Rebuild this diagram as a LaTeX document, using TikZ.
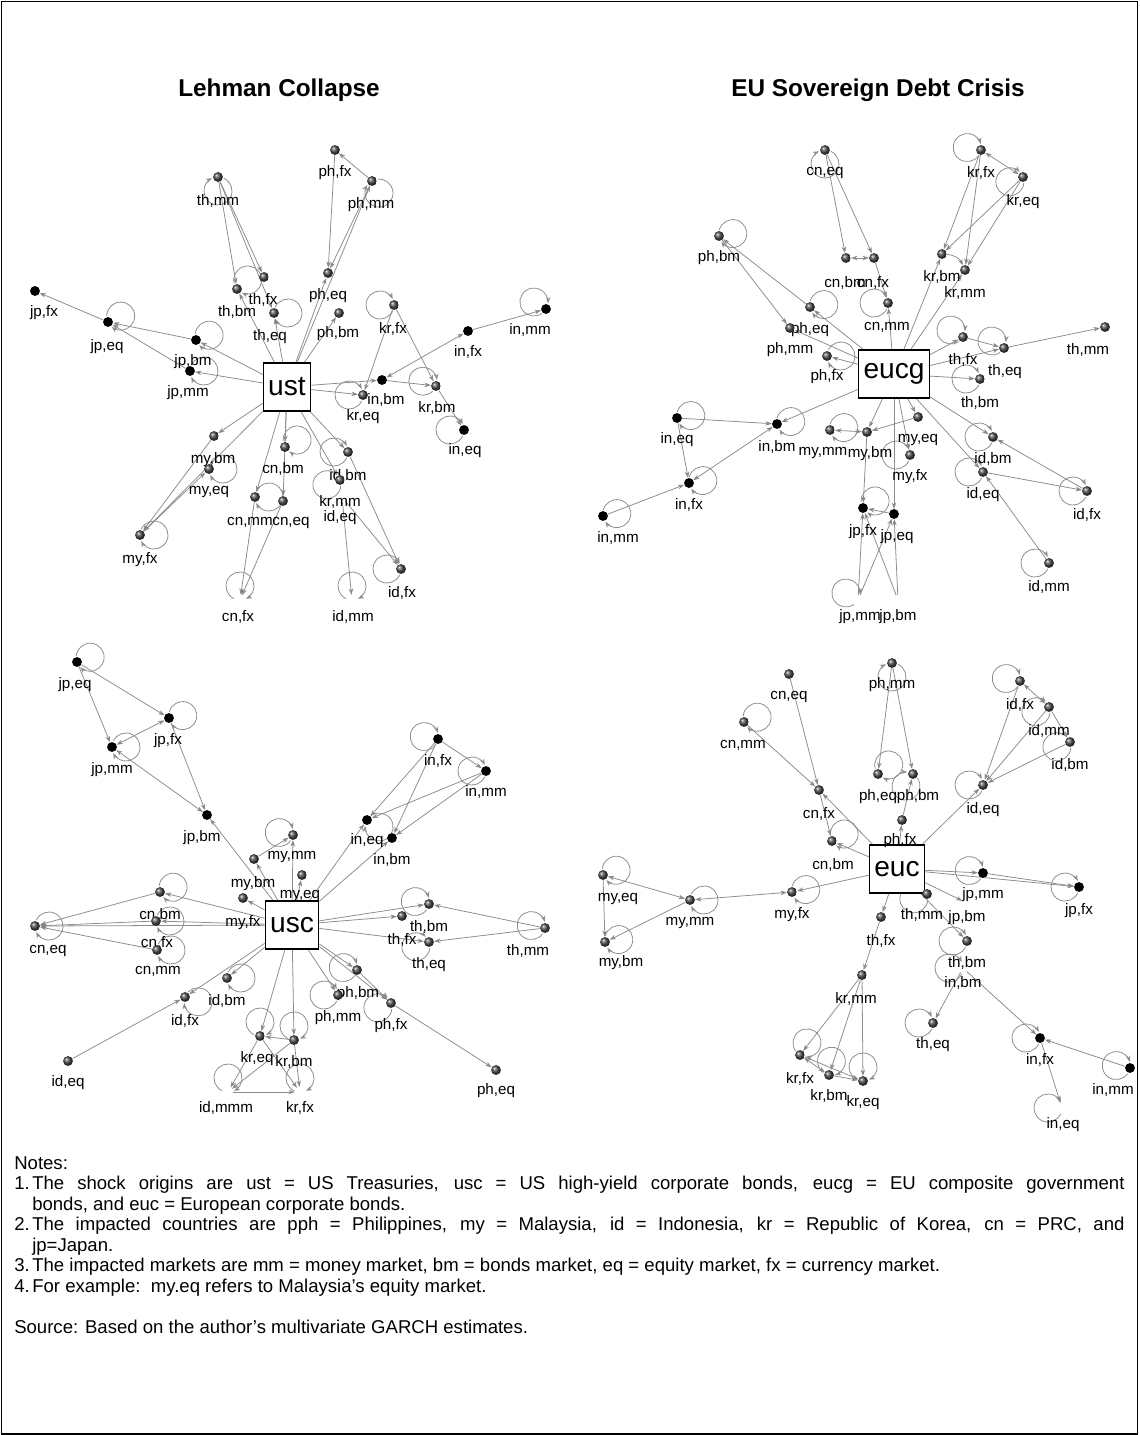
\documentclass[tikz,border=0pt]{standalone}
\usepackage{fontspec}
\setmainfont{Liberation Sans}
\usetikzlibrary{arrows.meta}
\pgfdeclarelayer{bg}
\pgfsetlayers{bg,main}

% market node: ball + label
\newcommand{\mk}[5][ball]{\node[#1] (#2) at (#3) {}; \node[lbl] (#2l) at (#4) {#5};}
% self loop: node, direction
\newcommand{\lpc}[3][14]{\draw[ed] (#2.center) ++({-(#3)}:#1) ++({-(#3)+205}:#1) arc[start angle={-(#3)+205},delta angle=310,radius=#1];}
\newcommand{\noteitem}[1]{\par\noindent\hangindent=12.8pt\hangafter=1\makebox[12.8pt][l]{#1}}

\begin{document}
\begin{tikzpicture}[x=0.025cm,y=-0.025cm,
  ball/.style={circle,inner sep=0pt,minimum size=7pt,ball color=black!70},
  blk/.style={circle,inner sep=0pt,minimum size=7pt,fill=black},
  hid/.style={circle,inner sep=0pt,minimum size=7pt},
  lbl/.style={inner sep=0pt,font=\fontsize{10.8}{11}\selectfont},
  src/.style={draw,line width=0.9pt,fill=white,inner xsep=3.5pt,minimum height=34pt,font=\fontsize{20}{20}\selectfont},
  ttl/.style={font=\fontsize{17.3}{17}\selectfont\bfseries},
  ed/.style={draw=black!45,line width=0.55pt,-{Stealth[length=4.5pt,width=3.2pt]}},
  ed2/.style={ed,{Stealth[length=4.5pt,width=3.2pt]}-{Stealth[length=4.5pt,width=3.2pt]}},
  notes/.style={anchor=north west,inner sep=0pt,text width=27.75cm,align=justify,font=\fontsize{13.2}{14.6}\selectfont}]
\useasboundingbox (0,0) rectangle (1139,1435);
\draw[line width=1.4pt] (1.5,1.5) rectangle (1137.5,1433.5);

\node[ttl] (t1) at (279,90) {Lehman Collapse};
\node[ttl] (t2) at (878,90) {EU Sovereign Debt Crisis};

% ---- Lehman collapse
\node[src] (ust) at (287,387) {ust};
\mk{L-thmm}{218,177}{218,201}{th,mm}
\mk[blk]{L-jpfx}{35,291}{44,313}{jp,fx}
\mk[blk]{L-jpeq}{108,322}{107,347}{jp,eq}
\mk[blk]{L-jpbm}{196,340}{193,362}{jp,bm}
\mk[blk]{L-jpmm}{190,371}{188,393}{jp,mm}
\mk{L-thbm}{237,289}{237,312}{th,bm}
\mk{L-thfx}{264,277}{263,300}{th,fx}
\mk{L-theq}{274,313}{270,337}{th,eq}
\mk{L-phfx}{335,150}{335,173}{ph,fx}
\mk{L-phmm}{372,181}{371,205}{ph,mm}
\mk{L-pheq}{328,273}{328,296}{ph,eq}
\mk{L-phbm}{339,313}{338,334}{ph,bm}
\mk{L-krfx}{394,305}{393,329}{kr,fx}
\mk[blk]{L-infx}{468,331}{468,352}{in,fx}
\mk[blk]{L-inmm}{546,309}{530,330}{in,mm}
\mk[blk]{L-inbm}{382,380}{386,400}{in,bm}
\mk{L-kreq}{363,395}{363,417}{kr,eq}
\mk{L-krbm}{436,386}{437,408}{kr,bm}
\mk[blk]{L-ineq}{464,430}{465,451}{in,eq}
\mk{L-cnbm}{285,447}{283,469}{cn,bm}
\mk{L-idbm}{348,452}{348,476}{id,bm}
\mk{L-krmm}{340,480}{340,502}{kr,mm}
\mk[hid]{L-ideq}{342,497}{340,518}{id,eq}
\mk{L-cneq}{283,501}{291,523}{cn,eq}
\mk{L-cnmm}{255,497}{250,522}{cn,mm}
\mk{L-idfx}{401,569}{402,593}{id,fx}
\mk[hid]{L-idmm}{352,600}{353,617}{id,mm}
\mk{L-mybm}{214,436}{213,460}{my,bm}
\mk{L-myeq}{209,469}{209,492}{my,eq}
\mk{L-myfx}{140,535}{140,560}{my,fx}
\mk[hid]{L-cnfx}{240,600}{238,617}{cn,fx}

% ---- EU sovereign debt crisis
\node[src] (eucg) at (894,374) {eucg};
\mk{E-cneq}{825,150}{825,173}{cn,eq}
\mk{E-phbm}{719,236}{719,258}{ph,bm}
\mk{E-cnbm}{846,258}{845,283}{cn,bm}
\mk{E-pheq}{810,307}{810,330}{ph,eq}
\mk{E-phmm}{790,328}{790,350}{ph,mm}
\mk{E-phfx}{827,356}{827,377}{ph,fx}
\mk{E-krfx}{981,150}{981,173}{kr,fx}
\mk{E-kreq}{1023,177}{1023,202}{kr,eq}
\mk{E-cnfx}{874,258}{873,283}{cn,fx}
\mk{E-krbm}{942,254}{942,277}{kr,bm}
\mk{E-krmm}{965,270}{965,293}{kr,mm}
\mk{E-cnmm}{888,303}{887,327}{cn,mm}
\mk{E-thfx}{963,337}{963,360}{th,fx}
\mk{E-theq}{1004,348}{1005,372}{th,eq}
\mk{E-thmm}{1105,327}{1088,350}{th,mm}
\mk{E-thbm}{980,379}{980,403}{th,bm}
\mk{E-myeq}{918,417}{918,440}{my,eq}
\mk{E-mybm}{867,432}{870,454}{my,bm}
\mk{E-myfx}{910,455}{910,477}{my,fx}
\mk{E-mymm}{830,430}{823,453}{my,mm}
\mk{E-idbm}{993,437}{993,459}{id,bm}
\mk{E-ideq}{983,472}{983,495}{id,eq}
\mk{E-idfx}{1087,491}{1087,515}{id,fx}
\mk{E-idmm}{1049,563}{1049,587}{id,mm}
\mk[blk]{E-jpfx}{863,508}{863,532}{jp,fx}
\mk[blk]{E-jpeq}{894,514}{897,537}{jp,eq}
\mk[hid]{E-jpmm}{858,600}{860,617}{jp,mm}
\mk[hid]{E-jpbm}{898,600}{898,617}{jp,bm}
\mk[blk]{E-ineq}{677,418}{677,440}{in,eq}
\mk[blk]{E-inbm}{777,424}{777,447}{in,bm}
\mk[blk]{E-infx}{689,483}{689,505}{in,fx}
\mk[blk]{E-inmm}{603,516}{618,538}{in,mm}

\begin{scope}[shift={(0,-22)}]
% ---- US high-yield corporate bonds
\node[src] (usc) at (292,947) {usc};
\mk[blk]{U-jpeq}{77,684}{75,707}{jp,eq}
\mk[blk]{U-jpfx}{169,740}{168,763}{jp,fx}
\mk[blk]{U-jpmm}{112,769}{112,792}{jp,mm}
\mk[blk]{U-jpbm}{207,837}{202,860}{jp,bm}
\mk{U-mybm}{254,881}{253,906}{my,bm}
\mk{U-mymm}{293,857}{292,879}{my,mm}
\mk{U-myeq}{302,897}{300,918}{my,eq}
\mk{U-myfx}{243,920}{243,945}{my,fx}
\mk{U-cnbm}{160,914}{160,937}{cn,bm}
\mk{U-cneq}{35,948}{48,973}{cn,eq}
\mk{U-cnfx}{156,943}{157,965}{cn,fx}
\mk{U-cnmm}{157,972}{158,993}{cn,mm}
\mk{U-idbm}{227,1000}{227,1023}{id,bm}
\mk{U-idfx}{185,1019}{185,1043}{id,fx}
\mk{U-ideq}{68,1083}{68,1105}{id,eq}
\mk{U-kreq}{260,1058}{257,1081}{kr,eq}
\mk{U-krbm}{294,1062}{294,1084}{kr,bm}
\mk[blk]{U-infx}{438,761}{438,783}{in,fx}
\mk[blk]{U-inmm}{486,793}{486,814}{in,mm}
\mk[blk]{U-ineq}{367,842}{367,863}{in,eq}
\mk[blk]{U-inbm}{392,860}{392,882}{in,bm}
\mk{U-thbm}{429,926}{429,949}{th,bm}
\mk{U-thfx}{402,938}{402,962}{th,fx}
\mk{U-theq}{429,964}{429,987}{th,eq}
\mk{U-thmm}{545,950}{528,973}{th,mm}
\mk{U-phbm}{357,992}{358,1016}{ph,bm}
\mk{U-phmm}{338,1017}{338,1040}{ph,mm}
\mk{U-phfx}{391,1025}{391,1048}{ph,fx}
\mk{U-pheq}{496,1092}{496,1113}{ph,eq}
\mk[hid]{U-idmm}{228,1114}{226,1130}{id,mmm}
\mk[hid]{U-krfx}{300,1114}{300,1130}{kr,fx}

% ---- European corporate bonds
\node[src] (euc) at (897,891) {euc};
\mk{C-cneq}{789,696}{789,719}{cn,eq}
\mk{C-cnmm}{744,744}{743,767}{cn,mm}
\mk{C-cnfx}{819,812}{819,836}{cn,fx}
\mk{C-cnbm}{832,863}{833,887}{cn,bm}
\mk{C-myeq}{603,897}{618,921}{my,eq}
\mk{C-mymm}{690,922}{690,945}{my,mm}
\mk{C-myfx}{792,914}{792,937}{my,fx}
\mk{C-mybm}{605,964}{621,985}{my,bm}
\mk{C-krmm}{862,997}{856,1021}{kr,mm}
\mk{C-krfx}{800,1077}{800,1101}{kr,fx}
\mk{C-krbm}{829,1097}{829,1118}{kr,bm}
\mk{C-kreq}{863,1103}{863,1125}{kr,eq}
\mk{C-phmm}{892,685}{892,707}{ph,mm}
\mk{C-pheq}{878,796}{878,819}{ph,eq}
\mk{C-phbm}{913,796}{918,819}{ph,bm}
\mk{C-phfx}{902,842}{900,863}{ph,fx}
\mk{C-idfx}{1020,703}{1020,727}{id,fx}
\mk{C-idmm}{1049,729}{1049,753}{id,mm}
\mk{C-idbm}{1070,764}{1070,787}{id,bm}
\mk{C-ideq}{983,807}{983,832}{id,eq}
\mk[blk]{C-jpmm}{983,895}{983,917}{jp,mm}
\mk[blk]{C-jpfx}{1079,909}{1079,933}{jp,fx}
\mk{C-thmm}{927,916}{922,937}{th,mm}
\mk[hid]{C-jpbm}{967,925}{967,940}{jp,bm}
\mk{C-thfx}{881,939}{881,963}{th,fx}
\mk{C-thbm}{967,963}{967,985}{th,bm}
\mk[hid]{C-inbm}{963,990}{963,1005}{in,bm}
\mk{C-theq}{933,1045}{933,1067}{th,eq}
\mk[blk]{C-infx}{1040,1060}{1040,1082}{in,fx}
\mk[blk]{C-inmm}{1130,1090}{1113,1112}{in,mm}
\mk[hid]{C-ineq}{1062,1130}{1063,1147}{in,eq}
\end{scope}

\begin{pgfonlayer}{bg}
% Lehman
\path[ed] (ust) edge (L-jpbm) edge (L-jpmm) edge (L-thbm) edge (L-theq) edge (L-pheq) edge (L-phbm) edge (L-phmm) edge (L-inbm) edge (L-kreq) edge (L-mybm) edge (L-myfx) edge (L-cnbm) edge (L-cnmm) edge (L-idbm) edge (L-krmm) edge (L-cneq);
\path[ed] (L-thmm) edge (L-thbm) edge (L-thfx) edge (L-theq);
\path[ed] (L-jpeq) edge (L-jpfx);
\path[ed] (L-jpbm) edge (L-jpeq);
\path[ed] (L-jpmm) edge (L-jpeq);
\path[ed] (L-phmm) edge (L-phfx) edge (L-pheq);
\path[ed] (L-phfx) edge (L-pheq);
\path[ed] (L-krfx) edge (L-kreq) edge (L-krbm);
\path[ed2] (L-infx) edge (L-inbm);
\path[ed] (L-infx) edge (L-inmm);
\path[ed] (L-inbm) edge (L-krbm);
\path[ed] (L-krbm) edge (L-ineq);
\path[ed] (L-mybm) edge (L-myfx);
\path[ed] (L-myfx) edge (L-myeq);
\path[ed] (L-cnmm) edge (L-cnfx);
\path[ed] (L-cneq) edge (L-cnfx);
\path[ed] (L-idbm) edge (L-idfx);
\path[ed] (L-ideq) edge (L-idfx) edge (L-idmm);
\lpc{L-thmm}{-90} \lpc{L-jpeq}{25} \lpc{L-jpbm}{20} \lpc{L-jpmm}{0}
\lpc{L-thbm}{40} \lpc{L-theq}{0} \lpc{L-phmm}{-60} \lpc{L-krfx}{180}
\lpc{L-inmm}{150} \lpc{L-krbm}{160} \lpc{L-kreq}{180} \lpc{L-ineq}{180}
\lpc{L-myeq}{0} \lpc{L-myfx}{0} \lpc{L-cnbm}{30} \lpc{L-idbm}{180}
\lpc{L-cnmm}{0} \lpc{L-krmm}{-160} \lpc{L-idfx}{180} \lpc{L-idmm}{90}
\lpc{L-cnfx}{90}

% EU sovereign
\path[ed] (eucg) edge (E-pheq) edge (E-phmm) edge (E-phfx) edge (E-krbm) edge (E-krmm) edge (E-cnmm) edge (E-thfx) edge (E-theq) edge (E-thbm) edge (E-inbm) edge (E-mybm) edge (E-myeq) edge (E-myfx) edge (E-jpeq) edge (E-idbm) edge (E-ideq);
\path[ed] (E-cneq) edge (E-cnbm) edge (E-cnfx);
\path[ed2] (E-cnbm) edge (E-cnfx);
\path[ed] (E-cnfx) edge (E-cnmm);
\path[ed] (E-pheq) edge (E-phbm);
\path[ed] (E-phbm) edge (E-phmm);
\path[ed2] (E-krfx) edge (E-kreq);
\path[ed] (E-krfx) edge (E-krbm) edge (E-krmm);
\path[ed] (E-kreq) edge (E-krbm) edge (E-krmm);
\path[ed] (E-krbm) edge[bend left] (E-krmm);
\path[ed] (E-thfx) edge (E-theq);
\path[ed] (E-theq) edge (E-thmm);
\path[ed] (E-ineq) edge (E-inbm) edge (E-infx);
\path[ed2] (E-inbm) edge (E-infx);
\path[ed] (E-inmm) edge (E-infx);
\path[ed2] (E-mymm) edge (E-mybm);
\path[ed] (E-myeq) edge (E-mybm);
\path[ed] (E-mybm) edge (E-jpfx);
\path[ed] (E-jpeq) edge (E-jpfx);
\path[ed] (E-jpmm) edge (E-jpeq) edge (E-jpfx);
\path[ed] (E-jpbm) edge (E-jpfx) edge (E-jpeq);
\path[ed] (E-idfx) edge (E-idbm);
\path[ed] (E-ideq) edge (E-idfx);
\path[ed] (E-idmm) edge (E-ideq);
\lpc{E-cneq}{-90} \lpc{E-phbm}{10} \lpc{E-pheq}{10} \lpc{E-cnmm}{180}
\lpc{E-krfx}{170} \lpc{E-kreq}{200} \lpc{E-thfx}{150} \lpc{E-theq}{150}
\lpc{E-thbm}{180} \lpc{E-phfx}{0} \lpc{E-ineq}{10} \lpc{E-inbm}{10}
\lpc{E-infx}{10} \lpc{E-inmm}{10} \lpc{E-mymm}{10} \lpc{E-myfx}{180}
\lpc{E-idbm}{180} \lpc{E-ideq}{180} \lpc{E-idfx}{180} \lpc{E-idmm}{180}
\lpc{E-jpfx}{30} \lpc{E-jpmm}{150}

% US high-yield
\path[ed] (usc) edge (U-jpbm) edge (U-mybm) edge (U-mymm) edge (U-myeq) edge (U-myfx) edge (U-cnbm) edge (U-cnfx) edge (U-cneq) edge (U-idbm) edge (U-idfx) edge (U-kreq) edge (U-krbm) edge (U-ineq) edge (U-inbm) edge (U-thbm) edge (U-thfx) edge (U-theq) edge (U-phbm) edge (U-phmm) edge (U-phfx);
\path[ed] (U-jpeq) edge (U-jpfx) edge (U-jpmm);
\path[ed2] (U-jpfx) edge (U-jpmm);
\path[ed] (U-jpfx) edge (U-jpbm);
\path[ed2] (U-jpmm) edge (U-jpbm);
\path[ed] (U-mybm) edge (U-mymm);
\path[ed] (U-cnbm) edge (U-cneq);
\path[ed] (U-cnfx) edge (U-cneq);
\path[ed] (U-cnmm) edge (U-cneq);
\path[ed] (U-ideq) edge (U-idfx);
\path[ed] (U-krbm) edge (U-kreq);
\path[ed] (U-infx) edge (U-ineq) edge (U-inbm) edge (U-inmm);
\path[ed] (U-inmm) edge (U-ineq) edge (U-inbm);
\path[ed] (U-thmm) edge (U-thbm) edge (U-theq);
\path[ed] (U-phfx) edge (U-pheq);
\path[ed] (U-phbm) edge (U-phfx);
\path[ed] (U-kreq) edge (U-idmm) edge (U-krfx);
\path[ed] (U-krbm) edge (U-idmm) edge (U-krfx);
\draw[ed] (U-idmm) -- (U-krfx);
\lpc{U-jpeq}{20} \lpc{U-jpfx}{10} \lpc{U-jpmm}{0} \lpc{U-cnbm}{20}
\lpc{U-cnfx}{0} \lpc{U-cnmm}{0} \lpc{U-cneq}{0} \lpc{U-idbm}{0}
\lpc{U-idfx}{-20} \lpc{U-kreq}{90} \lpc{U-krbm}{90} \lpc{U-mymm}{170}
\lpc{U-infx}{170} \lpc{U-inmm}{180} \lpc{U-ineq}{-30} \lpc{U-thbm}{170}
\lpc{U-theq}{200} \lpc{U-thmm}{170} \lpc{U-phbm}{170} \lpc{U-phmm}{180}
\lpc{U-phfx}{200} \lpc{U-idmm}{90} \lpc{U-krfx}{90}

% European corporate
\path[ed] (euc) edge (C-cnfx) edge (C-cnbm) edge (C-myfx) edge (C-thfx) edge (C-phfx) edge (C-ideq) edge (C-jpmm) edge (C-jpfx) edge (C-thmm) edge (C-thbm) edge (C-jpbm);
\path[ed] (C-cneq) edge (C-cnfx);
\path[ed] (C-cnmm) edge (C-cnfx);
\path[ed] (C-cnfx) edge (C-cnbm);
\path[ed2] (C-myfx) edge (C-mymm);
\path[ed2] (C-mymm) edge (C-myeq);
\path[ed] (C-mymm) edge (C-mybm);
\path[ed] (C-myeq) edge (C-mybm);
\path[ed] (C-thfx) edge (C-krmm);
\path[ed] (C-krmm) edge (C-krfx) edge (C-krbm) edge (C-kreq);
\path[ed2] (C-krfx) edge (C-krbm);
\path[ed] (C-krfx) edge (C-kreq);
\path[ed] (C-krbm) edge (C-kreq);
\path[ed] (C-phmm) edge (C-pheq) edge (C-phbm);
\path[ed] (C-phfx) edge (C-phbm);
\path[ed] (C-idfx) edge (C-ideq);
\path[ed] (C-idmm) edge (C-ideq);
\path[ed] (C-idbm) edge (C-ideq);
\path[ed2] (C-idfx) edge (C-idmm);
\path[ed] (C-idmm) edge (C-idbm);
\path[ed] (C-jpmm) edge (C-jpfx);
\path[ed] (C-inbm) edge (C-theq) edge (C-infx);
\path[ed] (C-inmm) edge (C-infx);
\path[ed] (C-infx) edge (C-ineq);
\lpc{C-cnmm}{20} \lpc{C-cnbm}{30} \lpc{C-myeq}{20} \lpc{C-mymm}{0}
\lpc{C-mybm}{10} \lpc{C-myfx}{10} \lpc{C-krbm}{80} \lpc{C-kreq}{90}
\lpc{C-krfx}{60} \lpc{C-phmm}{-90} \lpc{C-pheq}{40} \lpc{C-phbm}{-120}
\lpc{C-idfx}{170} \lpc{C-idmm}{200} \lpc{C-idbm}{200} \lpc{C-ideq}{180}
\lpc{C-jpmm}{170} \lpc{C-jpfx}{180} \lpc{C-thmm}{200} \lpc{C-thbm}{180}
\lpc{C-inbm}{180} \lpc{C-theq}{180} \lpc{C-infx}{180} \lpc{C-inmm}{170}
\lpc{C-ineq}{180}
\end{pgfonlayer}

\node[notes] (notes) at (14,1156) {Notes:
\noteitem{1.}The shock origins are ust = US Treasuries, usc = US high-yield corporate bonds, eucg = EU composite government\linebreak bonds, and euc = European corporate bonds.
\noteitem{2.}The impacted countries are pph = Philippines, my = Malaysia, id = Indonesia, kr = Republic of Korea, cn = PRC, and\linebreak jp=Japan.
\noteitem{3.}The impacted markets are mm = money market, bm = bonds market, eq = equity market, fx = currency market.
\noteitem{4.}For example:\ \ my.eq refers to Malaysia’s equity market.
\par\vspace{14.6pt}\noindent Source: Based on the author’s multivariate GARCH estimates.};
\end{tikzpicture}
\end{document}
